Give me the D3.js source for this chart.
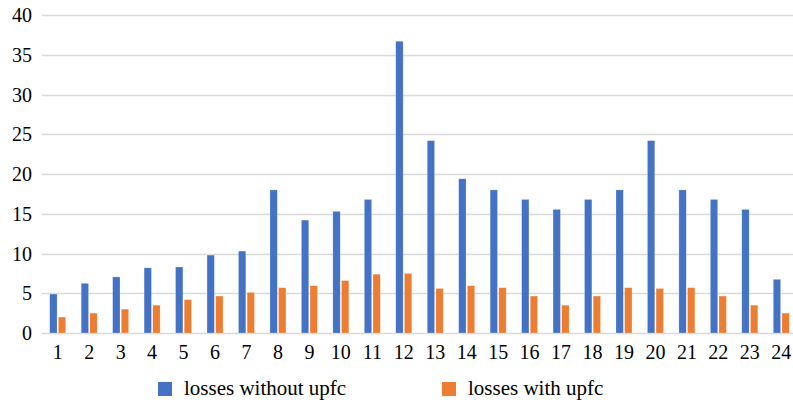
<!DOCTYPE html>
<html>
<head>
<meta charset="utf-8">
<script src="https://cdn.jsdelivr.net/npm/d3@7"></script>
<style>
  body { margin: 0; background: #fff; }
</style>
</head>
<body>
<svg id="chart"></svg>
<script>
'use strict';

// chart data
const hours = d3.range(1, 25).map(String);
const seriesNames = ['losses without upfc', 'losses with upfc'];
const lossesWithout = [4.9, 6.25, 7.05, 8.2, 8.3, 9.8, 10.3, 18.0, 14.2, 15.3, 16.8, 36.7,
  24.2, 19.4, 18.0, 16.8, 15.55, 16.8, 18.0, 24.2, 18.0, 16.8, 15.55, 6.75];
const lossesWith = [2.0, 2.5, 3.0, 3.5, 4.2, 4.65, 5.1, 5.7, 5.95, 6.6, 7.4, 7.5,
  5.6, 5.95, 5.7, 4.65, 3.5, 4.65, 5.7, 5.6, 5.7, 4.65, 3.5, 2.5];
const yTicks = [0, 5, 10, 15, 20, 25, 30, 35, 40];
const colors = ['#4472C4', '#ED7D31'];

const width = 793;
const height = 403;
const margin = {top: 15, right: -4, bottom: 70, left: 42};
const fontFamily = "'Liberation Serif'";

const svg = d3.select('#chart')
    .attr('width', width)
    .attr('height', height);

const x = d3.scaleBand()
    .domain(hours)
    .range([margin.left, width - margin.right]);
const x1 = d3.scaleBand()
    .domain(seriesNames)
    .range([-8, 8])
    .paddingInner(0.15);
const y = d3.scaleLinear()
    .domain([0, 40])
    .range([height - margin.bottom, margin.top]);

// gridlines
svg.append('g')
    .selectAll('line')
    .data(yTicks)
    .enter().append('line')
    .attr('x1', margin.left)
    .attr('x2', width)
    .attr('y1', (d) => Math.round(y(d)) + 0.5)
    .attr('y2', (d) => Math.round(y(d)) + 0.5)
    .attr('stroke', '#d9d9d9')
    .attr('stroke-width', 1.3);

// y labels
svg.append('g')
    .selectAll('text')
    .data(yTicks)
    .enter().append('text')
    .attr('x', 32)
    .attr('y', (d) => y(d))
    .attr('dy', '0.35em')
    .attr('text-anchor', 'end')
    .style('font-family', fontFamily)
    .style('font-size', '20px')
    .attr('fill', '#000')
    .text((d) => d);

// bars
const table = hours.map((h, i) => ({hour: h, values: [lossesWithout[i], lossesWith[i]]}));
const groups = svg.append('g')
    .selectAll('g')
    .data(table)
    .enter().append('g')
    .attr('transform', (d) => 'translate(' + (x(d.hour) + x.bandwidth() / 2) + ',0)');
groups.selectAll('rect')
    .data((d) => d.values.map((v, j) => ({name: seriesNames[j], value: v, color: colors[j]})))
    .enter().append('rect')
    .attr('x', (d) => x1(d.name))
    .attr('width', x1.bandwidth())
    .attr('y', (d) => y(d.value))
    .attr('height', (d) => y(0) - y(d.value))
    .attr('fill', (d) => d.color)
    .attr('stroke', '#fff')
    .attr('stroke-opacity', 0.4)
    .attr('stroke-width', 0.6);

// x labels
svg.append('g')
    .selectAll('text')
    .data(hours)
    .enter().append('text')
    .attr('x', (d) => x(d) + x.bandwidth() / 2)
    .attr('y', 359)
    .attr('text-anchor', 'middle')
    .style('font-family', fontFamily)
    .style('font-size', '20px')
    .attr('fill', '#000')
    .text((d) => d);

// legend
const legendX = [158, 442];
const legend = svg.append('g')
    .selectAll('g')
    .data(seriesNames)
    .enter().append('g')
    .attr('transform', (d, i) => 'translate(' + legendX[i] + ',382)');
legend.append('rect')
    .attr('width', 14)
    .attr('height', 14)
    .attr('fill', (d, i) => colors[i]);
legend.append('text')
    .attr('x', 26)
    .attr('y', 13)
    .style('font-family', fontFamily)
    .style('font-size', '21px')
    .attr('fill', '#000')
    .text((d) => d);
</script>
</body>
</html>
